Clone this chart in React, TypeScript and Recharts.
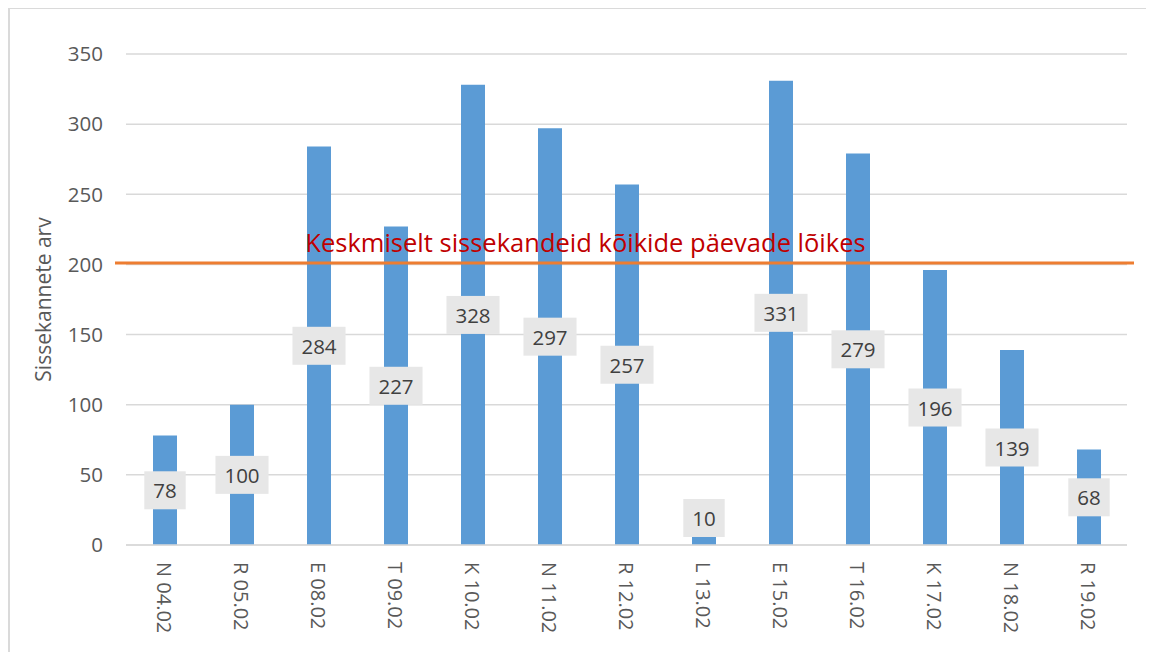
import { BarChart, Bar, XAxis, YAxis, CartesianGrid, ReferenceLine, LabelList } from "recharts";

const days = ["N 04.02", "R 05.02", "E 08.02", "T 09.02", "K 10.02", "N 11.02", "R 12.02", "L 13.02", "E 15.02", "T 16.02", "K 17.02", "N 18.02", "R 19.02"];
const entries = [78, 100, 284, 227, 328, 297, 257, 10, 331, 279, 196, 139, 68];
const yTicks = [0, 50, 100, 150, 200, 250, 300, 350];
const averageValue = 201;
const averageText = "Keskmiselt sissekandeid kõikide päevade lõikes";

const data = days.map((day, i) => ({ day, entries: entries[i] }));

const FONT = "'Open Sans', 'Noto Sans', sans-serif";

// gray boxed value label, centered on the bar but kept above the baseline
const BoxLabel = (props: any) => {
  const { x, y, width, height, value } = props;
  const text = String(value);
  const boxW = text.length * 11.7 + 18;
  const boxH = 38;
  const bottom = y + height - 8;
  let cy = y + height / 2;
  if (cy + boxH / 2 > bottom) cy = bottom - boxH / 2;
  const cx = x + width / 2;
  return (
    <g>
      <rect x={cx - boxW / 2} y={cy - boxH / 2} width={boxW} height={boxH} fill="#E7E7E7" />
      <text x={cx} y={cy} textAnchor="middle" dominantBaseline="central" fontSize={20.5} fill="#404040" fontFamily={FONT}>
        {text}
      </text>
    </g>
  );
};

const DayTick = (props: any) => {
  const { x, y, payload } = props;
  return (
    <text x={x} y={y} transform={`rotate(90, ${x}, ${y})`} textAnchor="start" dominantBaseline="central" fontSize={20} fill="#595959" fontFamily={FONT}>
      {payload.value}
    </text>
  );
};

const AvgLabel = (props: any) => {
  const { viewBox } = props;
  const cx = viewBox.x + viewBox.width / 2 - 41;
  return (
    <text x={cx} y={viewBox.y - 21} textAnchor="middle" dominantBaseline="central" fontSize={25.5} fill="#C00000" fontFamily={FONT}>
      {averageText}
    </text>
  );
};

// the average line runs a little past the plot edges
const AvgLine = (props: any) => {
  const { x1, y1, x2, y2 } = props;
  return <line x1={x1 - 11} y1={y1} x2={x2 + 7} y2={y2} stroke="#ED7D31" strokeWidth={3} />;
};

export default function App() {
  return (
    <div style={{ width: 1144, height: 650, marginTop: -1, borderTop: "2px solid #DADADA", borderLeft: "2px solid #DADADA", background: "#fff" }}>
      <BarChart width={1144} height={650} data={data} margin={{ top: 45, right: 27, bottom: 84, left: 0 }}>
        <CartesianGrid vertical={false} stroke="#D9D9D9" strokeWidth={1.5} />
        <XAxis dataKey="day" interval={0} height={30} tick={<DayTick />} tickLine={false} tickSize={0} tickMargin={17} axisLine={{ stroke: "#D9D9D9", strokeWidth: 1.5 }} />
        <YAxis
          width={116}
          domain={[0, 350]}
          ticks={yTicks}
          tickLine={false}
          axisLine={false}
          tickSize={0}
          tickMargin={23}
          tick={{ fontSize: 20.5, fill: "#595959", fontFamily: FONT }}
          label={{ value: "Sissekannete arv", angle: -90, position: "insideLeft", offset: 34, style: { fontSize: 21, fill: "#595959", fontFamily: FONT, textAnchor: "middle" } }}
        />
        <Bar dataKey="entries" fill="#5B9BD5" barSize={24} isAnimationActive={false}>
          <LabelList dataKey="entries" content={<BoxLabel />} />
        </Bar>
        <ReferenceLine y={averageValue} stroke="#ED7D31" strokeWidth={3} shape={<AvgLine />} label={<AvgLabel />} />
      </BarChart>
    </div>
  );
}
